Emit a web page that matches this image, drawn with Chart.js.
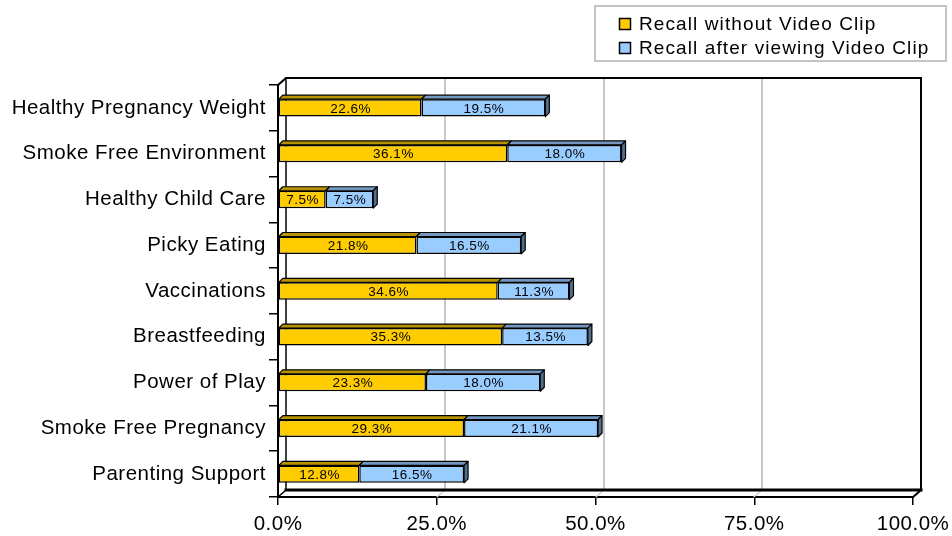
<!DOCTYPE html>
<html>
<head>
<meta charset="utf-8">
<script src="https://cdn.jsdelivr.net/npm/chart.js@4.4.1/dist/chart.umd.min.js"></script>
<style>
  html, body { margin: 0; padding: 0; background: #fff; }
  canvas { display: block; }
</style>
</head>
<body>
<canvas id="c" width="952" height="536"></canvas>
<script>
// Recall of campaign topics, share of respondents (%)
const categories = [
  'Healthy Pregnancy Weight',
  'Smoke Free Environment',
  'Healthy Child Care',
  'Picky Eating',
  'Vaccinations',
  'Breastfeeding',
  'Power of Play',
  'Smoke Free Pregnancy',
  'Parenting Support'
];
const recallWithout = [22.6, 36.1, 7.5, 21.8, 34.6, 35.3, 23.3, 29.3, 12.8];
const recallAfter   = [19.5, 18.0, 7.5, 16.5, 11.3, 13.5, 18.0, 21.1, 16.5];
const seriesNames = ['Recall without Video Clip', 'Recall after viewing Video Clip'];
const xTickValues = [0, 25, 50, 75, 100];

const FONT = "'Liberation Sans', Arial, Helvetica, sans-serif";
const WALL_DX = 8, WALL_DY = 7;   // depth of the 3-D back wall / floor
const BAR_D = 4;                  // depth of each 3-D bar

const seriesStyle = [
  { fill: '#FFCC00', top: '#B89300', side: '#8C7000' },
  { fill: '#99CCFF', top: '#7397BF', side: '#4F6F91' }
];

function pct(v) { return v.toFixed(1) + '%'; }

// Back wall, floor and vertical gridlines of the 3-D frame
const framePlugin = {
  id: 'frame3d',
  beforeDraw(chart) {
    chart.ctx.letterSpacing = '0.5px';
  },
  beforeDatasetsDraw(chart) {
    const { ctx, chartArea: a, scales: { x } } = chart;
    const L = a.left, R = a.right, T = a.top, B = a.bottom;
    const dx = WALL_DX, dy = WALL_DY;
    ctx.save();
    ctx.lineCap = 'square';
    // gridlines on the back wall plus their floor diagonals
    xTickValues.slice(1, -1).forEach(v => {
      const px = Math.round(x.getPixelForValue(v));
      ctx.strokeStyle = '#c8c8c8';
      ctx.lineWidth = 2;
      ctx.beginPath();
      ctx.moveTo(px + dx, T - dy);
      ctx.lineTo(px + dx, B - dy);
      ctx.stroke();
      ctx.lineWidth = 1.2;
      ctx.beginPath();
      ctx.moveTo(px, B);
      ctx.lineTo(px + dx, B - dy);
      ctx.stroke();
    });
    ctx.strokeStyle = '#000';
    // back wall outline
    ctx.lineWidth = 2;
    ctx.beginPath();
    ctx.moveTo(L, T);
    ctx.lineTo(L + dx, T - dy);
    ctx.lineTo(R + dx, T - dy);
    ctx.lineTo(R + dx, B - dy);
    ctx.lineTo(R, B);
    ctx.stroke();
    // left wall back edge
    ctx.lineWidth = 1.5;
    ctx.beginPath();
    ctx.moveTo(L + dx, T - dy);
    ctx.lineTo(L + dx, B - dy);
    ctx.stroke();
    // floor
    ctx.lineWidth = 1.5;
    ctx.beginPath();
    ctx.moveTo(L, B);
    ctx.lineTo(L + dx, B - dy);
    ctx.stroke();
    ctx.lineWidth = 3;
    ctx.beginPath();
    ctx.moveTo(L + dx, B - dy);
    ctx.lineTo(R + dx, B - dy);
    ctx.stroke();
    ctx.restore();
  },
  afterDatasetsDraw(chart) {
    const ctx = chart.ctx;
    const metas = chart.getSortedVisibleDatasetMetas();
    ctx.save();
    // top and end faces of the bars
    metas.forEach((meta, di) => {
      const st = seriesStyle[di];
      const last = di === metas.length - 1;
      meta.data.forEach(el => {
        const { x, y, base, height } = el.getProps(['x', 'y', 'base', 'height'], true);
        const top = y - height / 2, bot = y + height / 2;
        ctx.lineWidth = 1.2;
        ctx.strokeStyle = '#000';
        ctx.lineJoin = 'round';
        ctx.fillStyle = st.top;
        ctx.beginPath();
        ctx.moveTo(base, top);
        ctx.lineTo(base + BAR_D, top - BAR_D);
        ctx.lineTo(x + BAR_D, top - BAR_D);
        ctx.lineTo(x, top);
        ctx.closePath();
        ctx.fill();
        ctx.stroke();
        if (last) {
          ctx.fillStyle = st.side;
          ctx.beginPath();
          ctx.moveTo(x, top);
          ctx.lineTo(x + BAR_D, top - BAR_D);
          ctx.lineTo(x + BAR_D, bot - BAR_D);
          ctx.lineTo(x, bot);
          ctx.closePath();
          ctx.fill();
          ctx.stroke();
        }
      });
    });
    // value labels in the front face of each segment
    ctx.fillStyle = '#000';
    ctx.font = '13.5px ' + FONT;
    ctx.letterSpacing = '0.5px';
    ctx.textAlign = 'center';
    ctx.textBaseline = 'middle';
    metas.forEach((meta) => {
      const vals = chart.data.datasets[meta.index].data;
      meta.data.forEach((el, i) => {
        const { x, y, base } = el.getProps(['x', 'y', 'base'], true);
        ctx.fillText(pct(vals[i]), (x + base) / 2 + 0.5, y + 1);
      });
    });
    ctx.restore();
  },
  afterDraw(chart) {
    // boxed legend at the top right
    const ctx = chart.ctx;
    ctx.save();
    ctx.strokeStyle = '#c4c4c4';
    ctx.lineWidth = 2;
    ctx.strokeRect(595, 6, 351, 55);
    ctx.font = '19px ' + FONT;
    ctx.letterSpacing = '1.1px';
    ctx.textAlign = 'left';
    ctx.textBaseline = 'alphabetic';
    chart.data.datasets.forEach((ds, i) => {
      const base = 30 + i * 24;
      ctx.fillStyle = ds.backgroundColor;
      ctx.fillRect(619.5, base - 11.5, 11, 11);
      ctx.strokeStyle = '#000';
      ctx.lineWidth = 1.5;
      ctx.strokeRect(619.5, base - 11.5, 11, 11);
      ctx.fillStyle = '#000';
      ctx.fillText(ds.label, 639, base);
    });
    ctx.restore();
  }
};

new Chart(document.getElementById('c'), {
  type: 'bar',
  data: {
    labels: categories,
    datasets: [
      { label: seriesNames[0], data: recallWithout, backgroundColor: seriesStyle[0].fill },
      { label: seriesNames[1], data: recallAfter, backgroundColor: seriesStyle[1].fill }
    ]
  },
  options: {
    indexAxis: 'y',
    responsive: false,
    animation: false,
    devicePixelRatio: 1,
    layout: { padding: { left: 0, top: 85, right: 39, bottom: 0 } },
    datasets: {
      bar: {
        categoryPercentage: 1,
        barPercentage: 0.38,
        borderColor: '#000',
        borderWidth: 1.5,
        borderSkipped: false
      }
    },
    plugins: {
      legend: { display: false },
      tooltip: { enabled: false }
    },
    scales: {
      x: {
        type: 'linear',
        position: 'bottom',
        stacked: true,
        min: 0,
        max: 100,
        afterBuildTicks(s) { s.ticks = xTickValues.map(v => ({ value: v })); },
        afterFit(s) { s.height = 39; s.paddingLeft = 0; s.paddingRight = 0; },
        grid: { drawOnChartArea: false, drawTicks: true, tickLength: 8, color: '#000', lineWidth: 1.5 },
        border: { display: true, color: '#000', width: 2 },
        ticks: {
          color: '#000',
          font: { family: FONT, size: 20.5 },
          padding: 7,
          maxRotation: 0,
          callback: v => pct(v)
        }
      },
      y: {
        type: 'category',
        position: 'left',
        stacked: true,
        afterFit(s) { s.width = 278; s.paddingTop = 0; s.paddingBottom = 0; },
        grid: { offset: true, drawOnChartArea: false, drawTicks: true, tickLength: 9, color: '#000', lineWidth: 1.5 },
        border: { display: true, color: '#000', width: 2 },
        ticks: {
          color: '#000',
          font: { family: FONT, size: 20.5 },
          padding: 3,
          autoSkip: false
        }
      }
    }
  },
  plugins: [framePlugin]
});
</script>
</body>
</html>
